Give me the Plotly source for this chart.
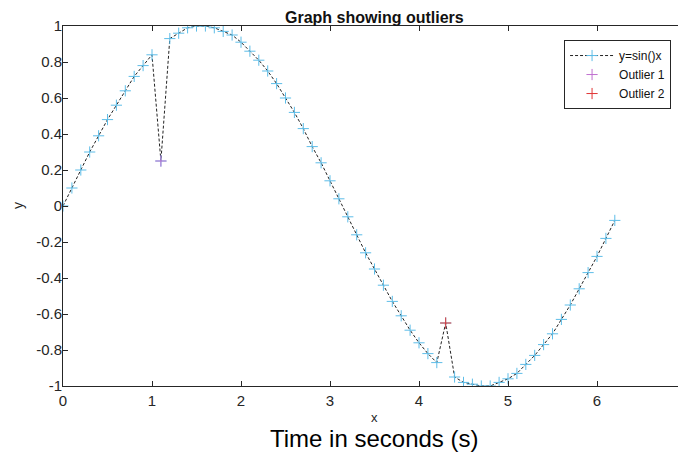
import plotly.graph_objects as go

x_vals = [0.0, 0.1, 0.2, 0.3, 0.4, 0.5, 0.6, 0.7, 0.8, 0.9,
          1.0, 1.1, 1.2, 1.3, 1.4, 1.5, 1.6, 1.7, 1.8, 1.9,
          2.0, 2.1, 2.2, 2.3, 2.4, 2.5, 2.6, 2.7, 2.8, 2.9,
          3.0, 3.1, 3.2, 3.3, 3.4, 3.5, 3.6, 3.7, 3.8, 3.9,
          4.0, 4.1, 4.2, 4.3, 4.4, 4.5, 4.6, 4.7, 4.8, 4.9,
          5.0, 5.1, 5.2, 5.3, 5.4, 5.5, 5.6, 5.7, 5.8, 5.9,
          6.0, 6.1, 6.2]
y_vals = [0.00, 0.10, 0.20, 0.30, 0.39, 0.48, 0.56, 0.64, 0.72, 0.78,
          0.84, 0.25, 0.93, 0.96, 0.99, 1.00, 1.00, 0.99, 0.97, 0.95,
          0.91, 0.86, 0.81, 0.75, 0.68, 0.60, 0.52, 0.43, 0.33, 0.24,
          0.14, 0.04, -0.06, -0.16, -0.26, -0.35, -0.44, -0.53, -0.61, -0.69,
          -0.76, -0.82, -0.87, -0.65, -0.95, -0.98, -0.99, -1.00, -1.00, -0.98,
          -0.96, -0.93, -0.88, -0.83, -0.77, -0.71, -0.63, -0.55, -0.46, -0.37,
          -0.28, -0.18, -0.08]
outlier1_x = [1.1]
outlier1_y = [0.25]
outlier2_x = [4.3]
outlier2_y = [-0.65]

x_ticks = [0, 1, 2, 3, 4, 5, 6, 7]
y_ticks = [-1, -0.8, -0.6, -0.4, -0.2, 0, 0.2, 0.4, 0.6, 0.8, 1]
y_tick_text = ["-1", "-0.8", "-0.6", "-0.4", "-0.2", "0", "0.2", "0.4", "0.6", "0.8", "1"]

FONT = "Liberation Sans, Arial, Helvetica, sans-serif"
AX = "#262626"

fig = go.Figure()
fig.add_trace(go.Scatter(
    x=x_vals, y=y_vals, mode="lines+markers", name="y=sin()x",
    line=dict(color="#222222", width=1, dash="3px,2px"),
    marker=dict(symbol="cross-thin", size=8, color="#5DBDE8",
                line=dict(color="#5DBDE8", width=1)),
))
fig.add_trace(go.Scatter(
    x=outlier1_x, y=outlier1_y, mode="markers", name="Outlier 1",
    marker=dict(symbol="cross-thin", size=8, color="#C070D0",
                line=dict(color="#C070D0", width=1)),
))
fig.add_trace(go.Scatter(
    x=outlier2_x, y=outlier2_y, mode="markers", name="Outlier 2",
    marker=dict(symbol="cross-thin", size=8, color="#E03535",
                line=dict(color="#E03535", width=1)),
))

fig.update_layout(
    width=678, height=447,
    margin=dict(l=55, r=0, t=18, b=69),
    paper_bgcolor="white", plot_bgcolor="white",
    font=dict(family=FONT, size=14, color=AX),
    showlegend=True,
    legend=dict(x=0.976, y=0.961, xanchor="right", yanchor="top",
                bgcolor="white", bordercolor=AX, borderwidth=1,
                font=dict(size=12, color="#111111"),
                tracegroupgap=0, itemwidth=44),
    annotations=[
        dict(text="<b>Graph showing outliers</b>", x=0.5, xref="paper",
             y=1, yref="paper", yanchor="bottom", yshift=-2, showarrow=False,
             font=dict(size=16, color="#111111")),
        dict(text="x", x=0.5, xref="paper", y=0.5, yref="paper",
             xanchor="center", yanchor="middle", showarrow=False,
             yshift=-211, font=dict(size=13, color=AX)),
        dict(text="y", x=0, xref="paper", y=0.5, yref="paper",
             xanchor="center", yanchor="middle", showarrow=False,
             xshift=-45, textangle=-90, font=dict(size=14, color=AX)),
        dict(text="Time in seconds (s)", x=0.5, xref="paper", y=0.5, yref="paper",
             xanchor="center", yanchor="middle", showarrow=False,
             yshift=-232, font=dict(size=24, color="#000000")),
    ],
)

fig.update_xaxes(range=[0, 7], tickvals=x_ticks, ticks="inside", ticklen=5,
                 tickcolor=AX, showline=True, linecolor=AX, linewidth=1,
                 mirror="ticks", showgrid=False, zeroline=False,
                 ticklabelstandoff=1,
                 tickfont=dict(size=15, color=AX))
fig.update_yaxes(range=[-1, 1], tickvals=y_ticks, ticktext=y_tick_text,
                 ticks="inside", ticklen=5, tickcolor=AX, showline=True,
                 linecolor=AX, linewidth=1, mirror="ticks", showgrid=False,
                 zeroline=False, ticklabelstandoff=-3,
                 tickfont=dict(size=15, color=AX))

fig.write_html("out.html")
